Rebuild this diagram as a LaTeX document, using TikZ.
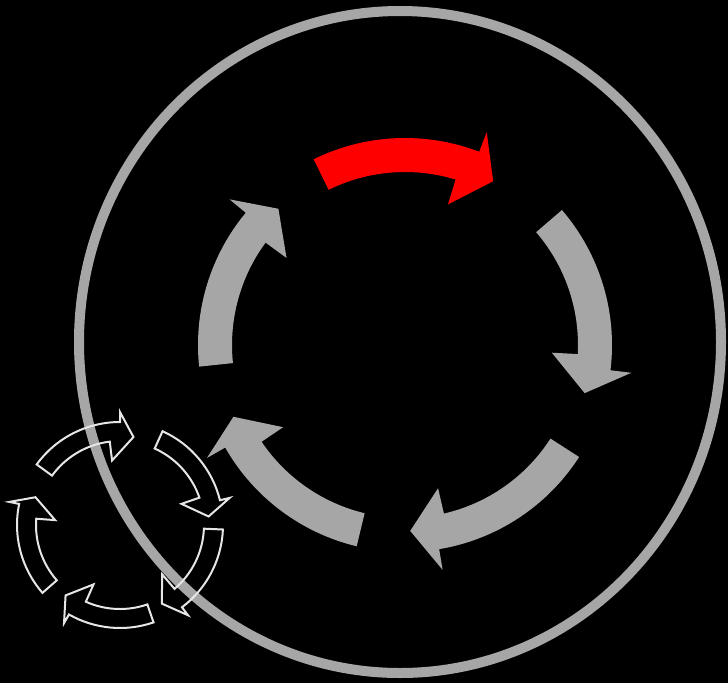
\documentclass[tikz,border=0pt]{standalone}
\usetikzlibrary{calc}
\definecolor{ringgray}{HTML}{A6A6A6}
\definecolor{arrowgray}{HTML}{A6A6A6}
\definecolor{hotred}{HTML}{FF0000}
\definecolor{outlinewhite}{HTML}{E6E6E6}
% #1 style, #2 cx, #3 cy (pixels down), #4 inner r, #5 outer r,
% #6 tail angle, #7 outer end angle, #8 inner end angle, #9 tip angle
\newcommand{\cycArrow}[9]{%
  \path[#1] ($(#2,-#3)+(#6:#5)$) arc[start angle=#6, end angle=#7, radius=#5]
    -- ($(#2,-#3)+(#7:\barbOut)$) -- ($(#2,-#3)+(#9:\tipR)$)
    -- ($(#2,-#3)+(#8:\barbIn)$) -- ($(#2,-#3)+(#8:#4)$)
    arc[start angle=#8, end angle=#6, radius=#4] -- cycle;}
\begin{document}
\begin{tikzpicture}[x=1pt,y=1pt,
  bigarrow/.style={fill=arrowgray},
  redarrow/.style={fill=hotred},
  smallarrow/.style={draw=outlinewhite, line width=2pt, line join=miter},
  ring/.style={draw=ringgray, line width=10pt}]
\fill[black] (0,0) rectangle (728,-683);
\useasboundingbox (0,0) rectangle (728,-683);
% big ring
\draw[ring] (400,-342) ellipse [x radius=321, y radius=331];
% big cycle arrows
\def\barbOut{228}\def\barbIn{147}\def\tipR{186}
\cycArrow{redarrow}{405}{345}{173}{207}{116.2}{69}{73}{61.7}
\cycArrow{bigarrow}{405}{345}{173}{207}{40.7}{-7}{-3}{-15}
\cycArrow{bigarrow}{405}{345}{173}{207}{-32.75}{-80.5}{-77}{-88.4}
\cycArrow{bigarrow}{405}{345}{173}{207}{-103.5}{-150.3}{-146}{-157.3}
\cycArrow{bigarrow}{405}{345}{173}{207}{186}{140.3}{143.7}{132.9}
% small outlined cycle
\def\barbOut{113}\def\barbIn{65}\def\tipR{89}
\cycArrow{smallarrow}{120}{525}{84}{103}{144}{90}{97}{81.3}
\cycArrow{smallarrow}{120}{525}{84}{103}{65.6}{13.9}{19}{5.5}
\cycArrow{smallarrow}{120}{525}{84}{103}{-2.5}{-53}{-49.5}{-62}
\cycArrow{smallarrow}{120}{525}{84}{103}{-71}{-119.7}{-114}{-127.7}
\cycArrow{smallarrow}{120}{525}{84}{103}{221.2}{168.2}{175.7}{161.8}
\end{tikzpicture}
\end{document}
